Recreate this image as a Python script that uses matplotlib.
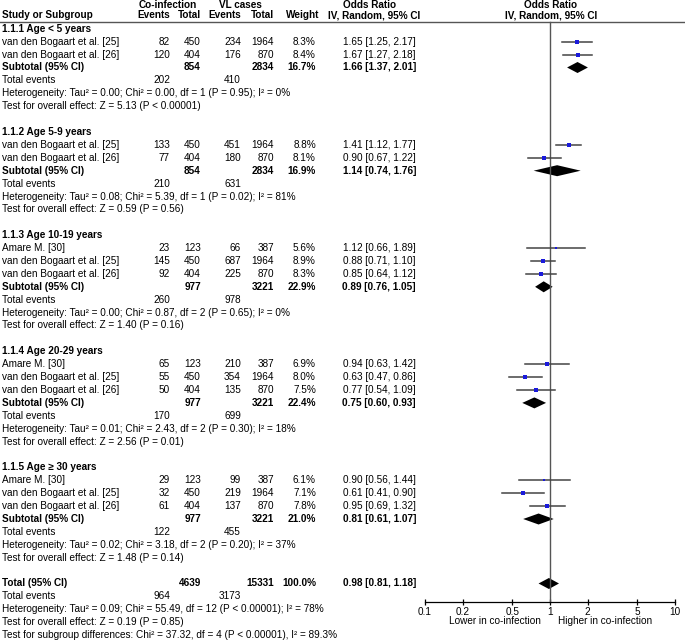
import matplotlib
matplotlib.use('Agg')
import matplotlib.pyplot as plt

plt.rcParams['font.family'] = ['Liberation Sans', 'DejaVu Sans']

# study rows
names = ['van den Bogaart et al. [25]', 'van den Bogaart et al. [26]',
         'van den Bogaart et al. [25]', 'van den Bogaart et al. [26]',
         'Amare M. [30]', 'van den Bogaart et al. [25]', 'van den Bogaart et al. [26]',
         'Amare M. [30]', 'van den Bogaart et al. [25]', 'van den Bogaart et al. [26]',
         'Amare M. [30]', 'van den Bogaart et al. [25]', 'van den Bogaart et al. [26]']
group = [0, 0, 1, 1, 2, 2, 2, 3, 3, 3, 4, 4, 4]
ev_co = [82, 120, 133, 77, 23, 145, 92, 65, 55, 50, 29, 32, 61]
tot_co = [450, 404, 450, 404, 123, 450, 404, 123, 450, 404, 123, 450, 404]
ev_vl = [234, 176, 451, 180, 66, 687, 225, 210, 354, 135, 99, 219, 137]
tot_vl = [1964, 870, 1964, 870, 387, 1964, 870, 387, 1964, 870, 387, 1964, 870]
weight = [8.3, 8.4, 8.8, 8.1, 5.6, 8.9, 8.3, 6.9, 8.0, 7.5, 6.1, 7.1, 7.8]
or_est = [1.65, 1.67, 1.41, 0.90, 1.12, 0.88, 0.85, 0.94, 0.63, 0.77, 0.90, 0.61, 0.95]
or_lo = [1.25, 1.27, 1.12, 0.67, 0.66, 0.71, 0.64, 0.63, 0.47, 0.54, 0.56, 0.41, 0.69]
or_hi = [2.17, 2.18, 1.77, 1.22, 1.89, 1.10, 1.12, 1.42, 0.86, 1.09, 1.44, 0.90, 1.32]

# subgroups
sub_titles = ['1.1.1 Age < 5 years', '1.1.2 Age 5-9 years', '1.1.3 Age 10-19 years',
              '1.1.4 Age 20-29 years', '1.1.5 Age \u2265 30 years']
sub_tot_co = [854, 854, 977, 977, 977]
sub_tot_vl = [2834, 2834, 3221, 3221, 3221]
sub_weight = [16.7, 16.9, 22.9, 22.4, 21.0]
sub_or = [1.66, 1.14, 0.89, 0.75, 0.81]
sub_lo = [1.37, 0.74, 0.76, 0.60, 0.61]
sub_hi = [2.01, 1.76, 1.05, 0.93, 1.07]
sub_ev_co = [202, 210, 260, 170, 122]
sub_ev_vl = [410, 631, 978, 699, 455]
sub_het = ['Tau\u00b2 = 0.00; Chi\u00b2 = 0.00, df = 1 (P = 0.95); I\u00b2 = 0%',
           'Tau\u00b2 = 0.08; Chi\u00b2 = 5.39, df = 1 (P = 0.02); I\u00b2 = 81%',
           'Tau\u00b2 = 0.00; Chi\u00b2 = 0.87, df = 2 (P = 0.65); I\u00b2 = 0%',
           'Tau\u00b2 = 0.01; Chi\u00b2 = 2.43, df = 2 (P = 0.30); I\u00b2 = 18%',
           'Tau\u00b2 = 0.02; Chi\u00b2 = 3.18, df = 2 (P = 0.20); I\u00b2 = 37%']
sub_z = ['Z = 5.13 (P < 0.00001)', 'Z = 0.59 (P = 0.56)', 'Z = 1.40 (P = 0.16)',
         'Z = 2.56 (P = 0.01)', 'Z = 1.48 (P = 0.14)']

# overall
total_co, total_vl, total_w = 4639, 15331, 100.0
total_or, total_lo, total_hi = 0.98, 0.81, 1.18
total_ev_co, total_ev_vl = 964, 3173
total_het = 'Tau\u00b2 = 0.09; Chi\u00b2 = 55.49, df = 12 (P < 0.00001); I\u00b2 = 78%'
total_z = 'Z = 0.19 (P = 0.85)'
subgroup_diff = 'Chi\u00b2 = 37.32, df = 4 (P < 0.00001), I\u00b2 = 89.3%'
ticks = [0.1, 0.2, 0.5, 1, 2, 5, 10]
tick_labels = ['0.1', '0.2', '0.5', '1', '2', '5', '10']

W, H = 685, 643
fig = plt.figure(figsize=(W / 100, H / 100), dpi=100)
ax = fig.add_axes([0, 0, 1, 1])
ax.set_xlim(0, W)
ax.set_ylim(H, 0)
ax.axis('off')

AXIS_Y = 602
fa = fig.add_axes([425 / W, (H - AXIS_Y) / H, 250 / W, AXIS_Y / H])
fa.set_xscale('log')
fa.set_xlim(0.1, 10)
fa.set_ylim(AXIS_Y, 0)
fa.patch.set_alpha(0)
for s in ['top', 'left', 'right']:
    fa.spines[s].set_visible(False)
fa.spines['bottom'].set_linewidth(0.9)
fa.set_yticks([])
fa.set_xticks(ticks)
fa.set_xticklabels(tick_labels)
fa.minorticks_off()
fa.tick_params(axis='x', direction='inout', length=5, width=0.9, labelsize=7.2, pad=1)

fs = 7.2
X_NAME, X_EVC, X_TOTC, X_EVV, X_TOTV, X_W, X_OR = 2, 170, 201, 241, 274, 316, 416


def row_y(r):
    return 28.8 + 12.9 * r


def txt(x, y, s, ha='left', bold=False):
    ax.text(x, y, s, ha=ha, va='center', fontsize=fs,
            fontweight='bold' if bold else 'normal')


# header
txt(168, 4.5, 'Co-infection', ha='center', bold=True)
txt(240, 4.5, 'VL cases', ha='center', bold=True)
txt(370, 4.5, 'Odds Ratio', ha='center', bold=True)
txt(551, 4.5, 'Odds Ratio', ha='center', bold=True)
txt(X_NAME, 15.5, 'Study or Subgroup', bold=True)
txt(X_EVC, 15.5, 'Events', ha='right', bold=True)
txt(X_TOTC, 15.5, 'Total', ha='right', bold=True)
txt(X_EVV, 15.5, 'Events', ha='right', bold=True)
txt(X_TOTV, 15.5, 'Total', ha='right', bold=True)
txt(X_W + 3, 15.5, 'Weight', ha='right', bold=True)
txt(374, 15.5, 'IV, Random, 95% CI', ha='center', bold=True)
txt(551, 15.5, 'IV, Random, 95% CI', ha='center', bold=True)
ax.plot([0, W], [22, 22], color='#555555', lw=1)

fa.plot([1, 1], [22, AXIS_Y], color='#555555', lw=1, clip_on=False)


def diamond(est, lo, hi, y):
    fa.fill([lo, est, hi, est], [y, y - 5.5, y, y + 5.5], color='black', lw=0)


r = 0
for g in range(5):
    txt(X_NAME, row_y(r), sub_titles[g], bold=True)
    r += 1
    for i in range(len(names)):
        if group[i] != g:
            continue
        y = row_y(r)
        txt(X_NAME, y, names[i])
        txt(X_EVC, y, str(ev_co[i]), ha='right')
        txt(X_TOTC, y, str(tot_co[i]), ha='right')
        txt(X_EVV, y, str(ev_vl[i]), ha='right')
        txt(X_TOTV, y, str(tot_vl[i]), ha='right')
        txt(X_W, y, f'{weight[i]:.1f}%', ha='right')
        txt(X_OR, y, f'{or_est[i]:.2f} [{or_lo[i]:.2f}, {or_hi[i]:.2f}]', ha='right')
        fa.plot([or_lo[i], or_hi[i]], [y, y], color='#444444', lw=1.1)
        fa.plot(or_est[i], y, 's', color='#1a1adb', ms=1.3 + weight[i] * 0.13, mew=0)
        r += 1
    y = row_y(r)
    txt(X_NAME, y, 'Subtotal (95% CI)', bold=True)
    txt(X_TOTC, y, str(sub_tot_co[g]), ha='right', bold=True)
    txt(X_TOTV, y, str(sub_tot_vl[g]), ha='right', bold=True)
    txt(X_W, y, f'{sub_weight[g]:.1f}%', ha='right', bold=True)
    txt(X_OR, y, f'{sub_or[g]:.2f} [{sub_lo[g]:.2f}, {sub_hi[g]:.2f}]', ha='right', bold=True)
    diamond(sub_or[g], sub_lo[g], sub_hi[g], y)
    r += 1
    y = row_y(r)
    txt(X_NAME, y, 'Total events')
    txt(X_EVC, y, str(sub_ev_co[g]), ha='right')
    txt(X_EVV, y, str(sub_ev_vl[g]), ha='right')
    r += 1
    txt(X_NAME, row_y(r), 'Heterogeneity: ' + sub_het[g])
    r += 1
    txt(X_NAME, row_y(r), 'Test for overall effect: ' + sub_z[g])
    r += 2

y = row_y(r)
txt(X_NAME, y, 'Total (95% CI)', bold=True)
txt(X_TOTC, y, str(total_co), ha='right', bold=True)
txt(X_TOTV, y, str(total_vl), ha='right', bold=True)
txt(X_W, y, f'{total_w:.1f}%', ha='right', bold=True)
txt(X_OR, y, f'{total_or:.2f} [{total_lo:.2f}, {total_hi:.2f}]', ha='right', bold=True)
diamond(total_or, total_lo, total_hi, y)
r += 1
y = row_y(r)
txt(X_NAME, y, 'Total events')
txt(X_EVC, y, str(total_ev_co), ha='right')
txt(X_EVV, y, str(total_ev_vl), ha='right')
txt(X_NAME, row_y(r + 1), 'Heterogeneity: ' + total_het)
txt(X_NAME, row_y(r + 2), 'Test for overall effect: ' + total_z)
txt(X_NAME, row_y(r + 3), 'Test for subgroup differences: ' + subgroup_diff)

txt(541, 621, 'Lower in co-infection', ha='right')
txt(558, 621, 'Higher in co-infection')

fig.savefig('out.png', dpi=100)
